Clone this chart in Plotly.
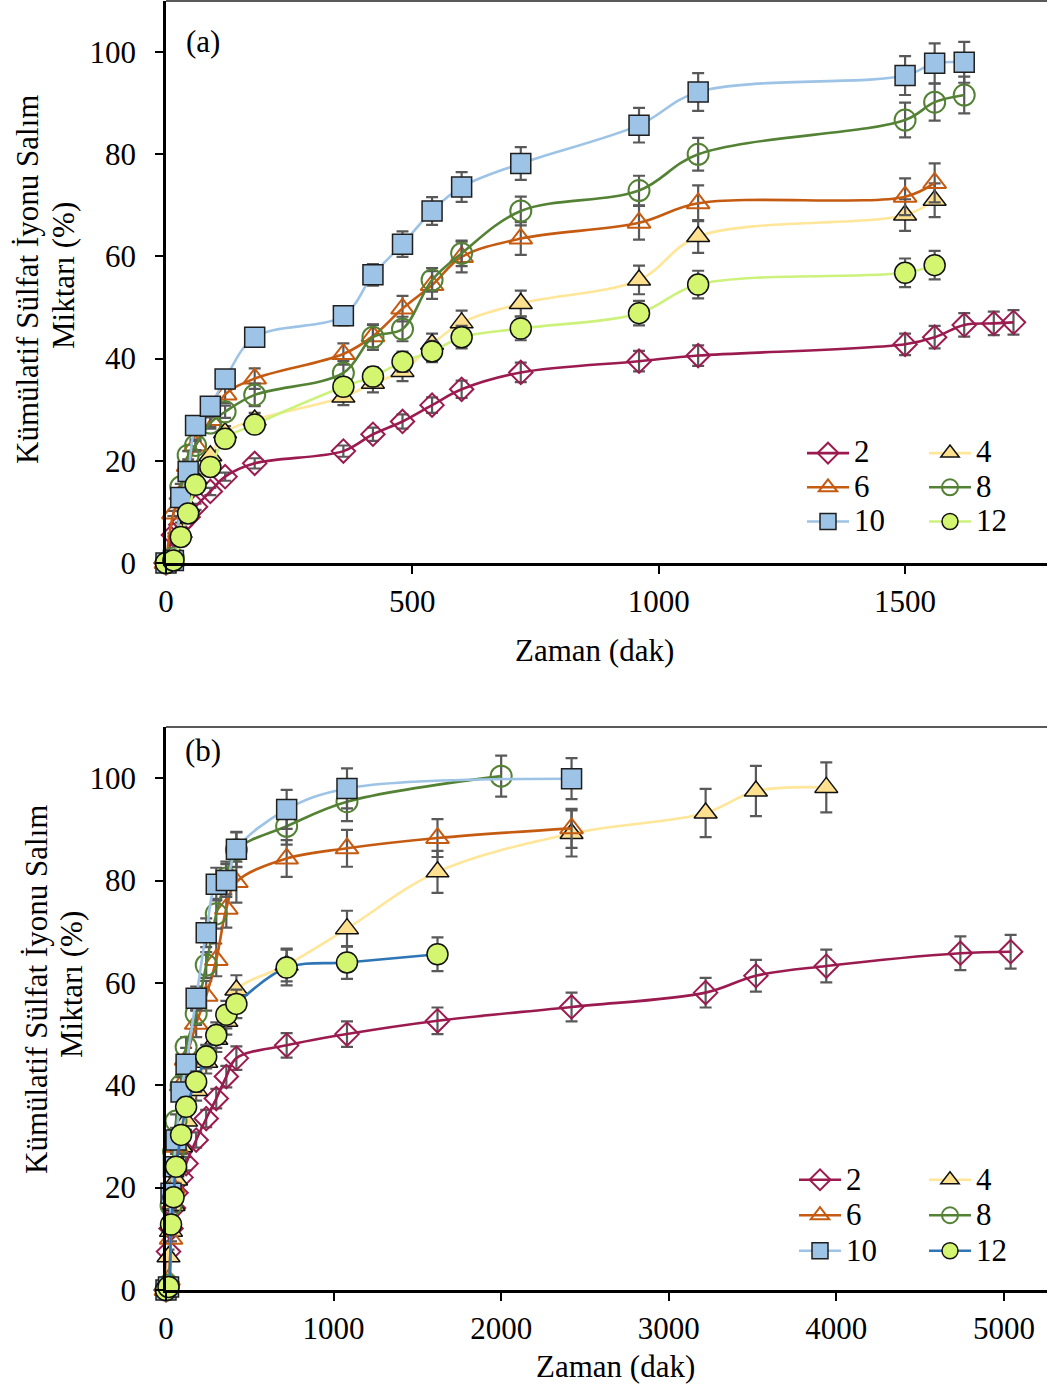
import plotly.graph_objects as go

# ---------------- panel (a) : release over 0-1720 min ----------------
time_a = [0, 15, 30, 45, 60, 90, 120, 180, 360, 420, 480, 540, 600, 720,
          960, 1080, 1500, 1560, 1620, 1680, 1720]

a2 = [0, 5.5, 7.5, 9.0, 11.0, 14.0, 16.9, 19.5, 21.9, 25.2, 27.7, 30.9, 34.0,
      37.3, 39.5, 40.6, 42.8, 44.2, 46.6, 46.9, 47.1]
a2_err = [0, 0.3, 0.4, 0.5, 0.6, 0.7, 0.8, 1.0, 1.1, 1.3, 1.4, 1.5, 1.7, 1.9,
          2.0, 2.0, 2.1, 2.2, 2.3, 2.3, 2.4]

a4 = [0, 0.5, 6.0, 11.0, 16.5, 21.0, 25.5, 28.0, 32.5, 35.2, 37.5, 42.8, 47.0,
      50.8, 55.4, 63.9, 68.1, 71.0]
a4_err = [0, 0.0, 0.3, 0.6, 0.8, 1.1, 1.3, 1.4, 1.6, 1.8, 1.9, 2.1, 2.4, 2.5,
          2.8, 3.2, 3.1, 3.3]

a6 = [0, 9.7, 13.5, 19.0, 23.0, 28.0, 33.0, 36.1, 40.9, 44.4, 49.8, 54.4, 59.9,
      63.5, 66.6, 70.4, 71.7, 74.4]
a6_err = [0, 0.5, 0.7, 0.9, 1.2, 1.4, 1.7, 2.0, 2.1, 2.2, 2.5, 2.7, 3.0, 3.2,
          3.3, 3.5, 3.6, 3.8]

a8 = [0, 1.0, 14.9, 21.1, 23.0, 27.4, 29.6, 32.9, 37.2, 44.2, 45.8, 55.4, 60.6,
      68.9, 72.9, 80.0, 86.7, 90.2, 91.6]
a8_err = [0, 0.0, 0.6, 0.8, 0.9, 1.1, 1.2, 2.2, 2.3, 2.5, 2.4, 2.3, 2.5, 2.8,
          2.9, 3.2, 3.4, 3.6, 3.6]

a10 = [0, 0.5, 12.8, 17.9, 26.9, 30.7, 36.0, 44.2, 48.4, 56.4, 62.4, 68.9, 73.6,
       78.2, 85.7, 92.2, 95.4, 97.8, 98.0]
a10_err = [0, 0.0, 0.5, 0.7, 1.1, 1.2, 1.4, 1.8, 1.9, 2.1, 2.5, 2.7, 2.9, 3.2,
           3.4, 3.7, 3.8, 3.9, 4.0]

a12 = [0, 0.5, 5.1, 9.7, 15.3, 18.8, 24.3, 27.1, 34.5, 36.5, 39.4, 41.4, 44.2,
       45.9, 48.9, 54.5, 56.8, 58.3]
a12_err = [0, 0.0, 0.3, 0.5, 0.8, 0.9, 1.2, 1.4, 1.7, 1.8, 2.0, 2.1, 2.2, 2.3,
           2.4, 2.7, 2.8, 2.8]

# ---------------- panel (b) : release over 0-5040 min ----------------
time_b = [0, 15, 30, 45, 60, 90, 120, 180, 240, 300, 360, 420, 720, 1080]
time_b2_tail = [1620, 2420, 3220, 3520, 3940, 4740, 5040]
time_b4_tail = [1620, 2420, 3220, 3520, 3940]
time_b6_tail = [1620, 2420]
time_b8_tail = [2000]
time_b10_tail = [2420]
time_b12_tail = [1620]

b2 = [0, 7.5, 12.0, 16.0, 19.0, 22.0, 24.7, 29.3, 33.5, 37.4, 41.7, 45.3, 47.8,
      50.0, 52.6, 55.3, 58.1, 61.4, 63.3, 65.8, 66.1]
b2_err = [0, 0.4, 0.6, 0.8, 1.0, 1.1, 1.3, 1.5, 1.7, 1.9, 2.1, 2.3, 2.4, 2.5,
          2.6, 2.8, 2.9, 3.1, 3.2, 3.3, 3.3]

b4 = [0, 6.5, 11.5, 16.5, 21.5, 28.0, 33.0, 39.0, 44.5, 49.0, 52.5, 58.6, 63.5,
      70.6, 81.7, 89.2, 93.2, 97.5, 98.2]
b4_err = [0, 0.3, 0.6, 0.8, 1.1, 1.4, 1.7, 2.0, 2.2, 2.5, 2.6, 2.9, 3.2, 3.5,
          4.1, 4.5, 4.7, 4.9, 4.9]

b6 = [0, 2.0, 10.0, 20.0, 28.0, 40.0, 45.0, 52.0, 57.5, 64.5, 74.5, 79.7, 84.3,
      86.3, 88.3, 90.2]
b6_err = [0, 0.1, 0.5, 1.0, 1.4, 2.0, 2.3, 2.6, 2.9, 3.2, 3.7, 4.0, 3.6, 3.6,
          3.7, 3.8]

b8 = [0, 1.0, 16.5, 27.0, 33.0, 40.0, 47.5, 54.0, 63.5, 73.5, 80.5, 86.0, 90.6,
      95.4, 100.4]
b8_err = [0, 0.0, 0.7, 1.1, 1.3, 1.6, 1.9, 2.2, 2.5, 2.9, 3.2, 3.4, 3.6, 3.8, 4.0]

b10 = [0, 0.6, 18.9, 24.1, 29.3, 38.7, 44.1, 57.0, 69.8, 79.3, 80.0, 86.1, 93.9,
       98.0, 99.9]
b10_err = [0, 0.0, 0.8, 1.0, 1.2, 1.5, 1.8, 2.3, 2.8, 3.2, 3.2, 3.4, 3.8, 3.9, 4.0]

b12 = [0, 0.6, 12.8, 18.1, 24.1, 30.3, 35.8, 40.7, 45.6, 49.8, 53.8, 55.9, 63.0,
       64.0, 65.6]
b12_err = [0, 0.0, 0.6, 0.9, 1.2, 1.5, 1.8, 2.0, 2.3, 2.5, 2.7, 2.8, 3.5, 3.2, 3.3]

FONT = "Liberation Serif, Times New Roman, serif"
ERR_COLOR = "#595959"

# visual style per series: line colour, marker symbol, fill, outline
styles = {
    "2": dict(line="#9B1B50", symbol="diamond-open", fill="#9B1B50", edge="#9B1B50", size=18, ew=2),
    "4": dict(line="#FFE699", symbol="triangle-up", fill="#FFE08F", edge="#111111", size=20, ew=1.5),
    "6": dict(line="#C55A11", symbol="triangle-up-open", fill="#C55A11", edge="#C55A11", size=20, ew=2),
    "8": dict(line="#548235", symbol="circle-open", fill="#548235", edge="#548235", size=21, ew=2),
    "10": dict(line="#9DC3E6", symbol="square", fill="#9DC3E6", edge="#1F1F1F", size=20, ew=1.5),
    "12": dict(line="#CDF27C", symbol="circle", fill="#D4F56F", edge="#111111", size=21, ew=1.5),
}

# legend columns: first column holds 2/6/10, second 4/8/12
column_of = {"2": 0, "6": 0, "10": 0, "4": 1, "8": 1, "12": 1}

panel_a = [
    ("2", time_a, a2, a2_err),
    ("4", time_a[:len(a4)], a4, a4_err),
    ("6", time_a[:len(a6)], a6, a6_err),
    ("8", time_a[:len(a8)], a8, a8_err),
    ("10", time_a[:len(a10)], a10, a10_err),
    ("12", time_a[:len(a12)], a12, a12_err),
]
panel_b = [
    ("2", time_b + time_b2_tail, b2, b2_err),
    ("4", time_b + time_b4_tail, b4, b4_err),
    ("6", time_b + time_b6_tail, b6, b6_err),
    ("8", time_b + time_b8_tail, b8, b8_err),
    ("10", time_b + time_b10_tail, b10, b10_err),
    ("12", time_b + time_b12_tail, b12, b12_err),
]

fig = go.Figure()


def add_series(name, t, v, e, xa, ya, legends, line_color=None):
    s = styles[name]
    fig.add_trace(go.Scatter(
        x=t, y=v, name='<span style="font-size:31px">%s</span>' % name,
        xaxis=xa, yaxis=ya, legend=legends[column_of[name]],
        mode="lines+markers", cliponaxis=False,
        line=dict(color=line_color or s["line"], width=2.6, shape="spline", smoothing=1.0),
        marker=dict(symbol=s["symbol"], size=s["size"], color=s["fill"],
                    line=dict(color=s["edge"], width=s["ew"])),
        error_y=dict(type="data", array=e, visible=True, color=ERR_COLOR,
                     thickness=2.2, width=6),
    ))


for name, t, v, e in panel_a:
    add_series(name, t, v, e, "x", "y", ("legend", "legend2"))
for name, t, v, e in panel_b:
    add_series(name, t, v, e, "x2", "y2", ("legend3", "legend4"),
               line_color="#2E75B6" if name == "12" else None)

W, H = 1047, 1386
left = 166 / W
a_top, a_bot = 1 - 1 / H, 1 - 563 / H
b_top, b_bot = 1 - 727 / H, 1 - 1290 / H

axis_common = dict(showline=True, linecolor="black", linewidth=2.5,
                   ticks="outside", ticklen=8, tickwidth=2, tickcolor="black",
                   showgrid=False, zeroline=False,
                   tickfont=dict(family=FONT, size=31, color="black"))


def legend_box(x_px, y_px, size):
    return dict(orientation="v", x=x_px / W, y=1 - y_px / H, xanchor="left",
                yanchor="top", bgcolor="rgba(0,0,0,0)", itemwidth=42,
                traceorder="normal", font=dict(family=FONT, size=size, color="black"))


fig.update_layout(
    width=W, height=H, margin=dict(l=0, r=0, t=0, b=0, autoexpand=False),
    paper_bgcolor="white", plot_bgcolor="rgba(0,0,0,0)",
    font=dict(family=FONT, size=31, color="black"),
    xaxis=dict(domain=[left, 1], range=[0, 1788], anchor="y",
               tickvals=[0, 500, 1000, 1500], ticklabelstandoff=1, **axis_common),
    yaxis=dict(domain=[a_bot, a_top], range=[0, 110], anchor="x",
               tickvals=[0, 20, 40, 60, 80, 100], ticklabelstandoff=13, **axis_common),
    xaxis2=dict(domain=[left, 1], range=[0, 5257], anchor="y2",
                tickvals=[0, 1000, 2000, 3000, 4000, 5000], ticklabelstandoff=1, **axis_common),
    yaxis2=dict(domain=[b_bot, b_top], range=[0, 110], anchor="x2",
                tickvals=[0, 20, 40, 60, 80, 100], ticklabelstandoff=13, **axis_common),
    legend=legend_box(802, 431, 24),
    legend2=legend_box(924, 431, 24),
    legend3=legend_box(794, 1157, 25),
    legend4=legend_box(924, 1157, 25),
    showlegend=True,
)

# plot-area top borders
for top in (a_top, b_top):
    fig.add_shape(type="line", xref="paper", yref="paper", x0=left, x1=1,
                  y0=top, y1=top, line=dict(color="#595959", width=2))

annos = [
    dict(text="Kümülatif Sülfat İyonu Salım", x=28, y=280, textangle=-90),
    dict(text="Miktarı (%)", x=63, y=276, textangle=-90),
    dict(text="Kümülatif Sülfat İyonu Salım", x=36, y=990, textangle=-90),
    dict(text="Miktarı (%)", x=71, y=985, textangle=-90),
    dict(text="Zaman (dak)", x=594, y=650),
    dict(text="Zaman (dak)", x=615, y=1366),
    dict(text="(a)", x=203, y=42),
    dict(text="(b)", x=203, y=750),
]
for an in annos:
    fig.add_annotation(xref="paper", yref="paper", showarrow=False,
                       xanchor="center", yanchor="middle",
                       font=dict(family=FONT, size=31, color="black"),
                       text=an["text"], x=an["x"] / W, y=1 - an["y"] / H,
                       textangle=an.get("textangle", 0))

fig.write_html("out.html")
